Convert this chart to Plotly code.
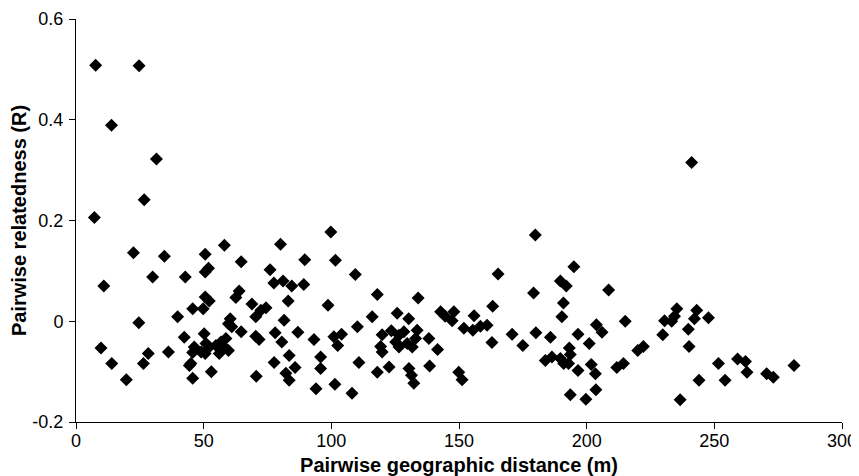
import plotly.graph_objects as go

# Pairwise geographic distance (m)
distance = [
    7.7, 24.7, 13.9, 31.5, 26.7, 7.2, 22.5, 34.6, 50.6, 58.1,
    64.7, 76.0, 30.0, 42.8, 50.6, 51.9, 10.9, 50.6, 52.2, 45.7,
    49.8, 63.9, 62.6, 68.9, 72.4, 70.4, 74.4, 39.8, 24.6, 60.4,
    59.7, 61.0, 9.8, 14.0, 19.7, 28.3, 26.4, 36.2, 42.4, 50.2,
    46.3, 45.7, 45.0, 44.4, 45.7, 50.9, 52.2, 50.6, 53.0, 56.8,
    58.7, 56.1, 59.7, 58.0, 64.7, 70.4, 71.7, 70.6, 54.8, 49.0,
    99.8, 80.1, 89.6, 101.6, 109.4, 77.5, 81.1, 84.5, 89.2, 118.0,
    134.0, 83.1, 98.7, 142.8, 144.6, 148.0, 147.3, 81.5, 116.0, 125.8,
    130.3, 110.2, 78.0, 80.6, 86.9, 93.2, 101.0, 104.0, 102.5, 119.9,
    123.5, 119.3, 119.9, 126.5, 125.2, 128.4, 126.5, 129.7, 131.7, 133.6,
    133.0, 138.2, 141.6, 77.6, 83.5, 85.8, 82.2, 83.5, 95.8, 95.8,
    110.8, 94.0, 101.4, 108.1, 118.0, 122.6, 130.4, 131.4, 132.3, 138.5,
    179.9, 195.0, 165.3, 189.7, 192.0, 208.6, 179.2, 190.9, 163.2, 155.9,
    190.3, 151.9, 155.4, 158.4, 161.0, 162.9, 170.8, 175.0, 180.1, 185.8,
    196.6, 201.0, 203.8, 206.0, 215.1, 220.0, 222.2, 183.8, 186.4, 189.7,
    191.0, 192.9, 193.2, 193.6, 196.6, 201.8, 203.4, 211.8, 214.4, 149.9,
    151.2, 193.6, 199.7, 203.6, 241.1, 235.3, 243.1, 230.5, 233.3, 234.4,
    242.2, 247.7, 239.8, 229.8, 240.1, 251.6, 259.1, 262.2, 262.8, 270.5,
    273.1, 281.2, 244.0, 254.2, 236.6,
]

# Pairwise relatedness (R)
relatedness = [
    0.508, 0.507, 0.389, 0.322, 0.241, 0.206, 0.136, 0.129, 0.133, 0.151,
    0.118, 0.102, 0.088, 0.088, 0.098, 0.105, 0.070, 0.048, 0.040, 0.025,
    0.025, 0.060, 0.047, 0.034, 0.022, 0.009, 0.027, 0.009, -0.003, 0.005,
    -0.005, -0.011, -0.053, -0.084, -0.116, -0.064, -0.084, -0.061, -0.032, -0.025,
    -0.051, -0.062, -0.084, -0.088, -0.113, -0.044, -0.051, -0.064, -0.100, -0.041,
    -0.034, -0.064, -0.058, -0.051, -0.021, -0.030, -0.036, -0.109, -0.048, -0.061,
    0.177, 0.153, 0.122, 0.121, 0.093, 0.076, 0.080, 0.070, 0.073, 0.053,
    0.046, 0.040, 0.032, 0.019, 0.010, 0.019, 0.001, 0.002, 0.009, 0.016,
    0.005, -0.011, -0.023, -0.041, -0.022, -0.036, -0.031, -0.026, -0.048, -0.027,
    -0.019, -0.050, -0.061, -0.028, -0.041, -0.021, -0.051, -0.044, -0.051, -0.018,
    -0.034, -0.034, -0.056, -0.082, -0.068, -0.092, -0.103, -0.117, -0.071, -0.094,
    -0.082, -0.134, -0.125, -0.143, -0.101, -0.091, -0.094, -0.107, -0.123, -0.089,
    0.171, 0.108, 0.094, 0.080, 0.070, 0.062, 0.056, 0.036, 0.030, 0.011,
    0.009, -0.014, -0.018, -0.010, -0.008, -0.042, -0.026, -0.048, -0.023, -0.032,
    -0.026, -0.044, -0.007, -0.022, 0.000, -0.058, -0.050, -0.078, -0.071, -0.074,
    -0.084, -0.084, -0.053, -0.066, -0.098, -0.086, -0.104, -0.092, -0.084, -0.101,
    -0.116, -0.146, -0.155, -0.136, 0.315, 0.025, 0.022, 0.001, 0.000, 0.010,
    0.005, 0.007, -0.016, -0.027, -0.050, -0.084, -0.075, -0.080, -0.101, -0.104,
    -0.111, -0.088, -0.117, -0.117, -0.156,
]

x_ticks = [0, 50, 100, 150, 200, 250, 300]
x_tick_labels = ["0", "50", "100", "150", "200", "250", "300"]
y_ticks = [-0.2, 0, 0.2, 0.4, 0.6]
y_tick_labels = ["-0.2", "0", "0.2", "0.4", "0.6"]

fig = go.Figure(
    go.Scatter(
        x=distance,
        y=relatedness,
        mode="markers",
        marker=dict(symbol="diamond", size=10, color="black", line=dict(width=0)),
        showlegend=False,
        hoverinfo="x+y",
    )
)

font_family = "Liberation Sans, Arial, sans-serif"

# The page places the figure 8 px in from the top-left corner (body margin).
fig.update_layout(
    width=859,
    height=476,
    margin=dict(l=68, r=25, t=11, b=62),
    paper_bgcolor="white",
    plot_bgcolor="white",
    font=dict(family=font_family, size=18, color="black"),
    xaxis=dict(
        range=[0, 300],
        tickvals=x_ticks,
        ticktext=x_tick_labels,
        automargin=False,
        showgrid=False,
        zeroline=False,
        showline=True,
        linecolor="black",
        linewidth=1,
        ticks="outside",
        ticklen=6,
        tickcolor="black",
        tickfont=dict(size=18),
        ticklabelstandoff=-4,
        ticklabeloverflow="allow",
        title=dict(
            text="<b>Pairwise geographic distance (m)</b>",
            font=dict(size=20),
            standoff=8,
        ),
    ),
    yaxis=dict(
        range=[-0.2, 0.6],
        tickvals=y_ticks,
        ticktext=y_tick_labels,
        automargin=False,
        showgrid=False,
        zeroline=False,
        showline=True,
        linecolor="black",
        linewidth=1,
        ticks="outside",
        ticklen=6,
        tickcolor="black",
        tickfont=dict(size=18),
        ticklabelstandoff=2,
        title=dict(
            text="<b>Pairwise relatedness (R)</b>",
            font=dict(size=20),
            standoff=2,
        ),
    ),
)

fig.write_html("out.html")
